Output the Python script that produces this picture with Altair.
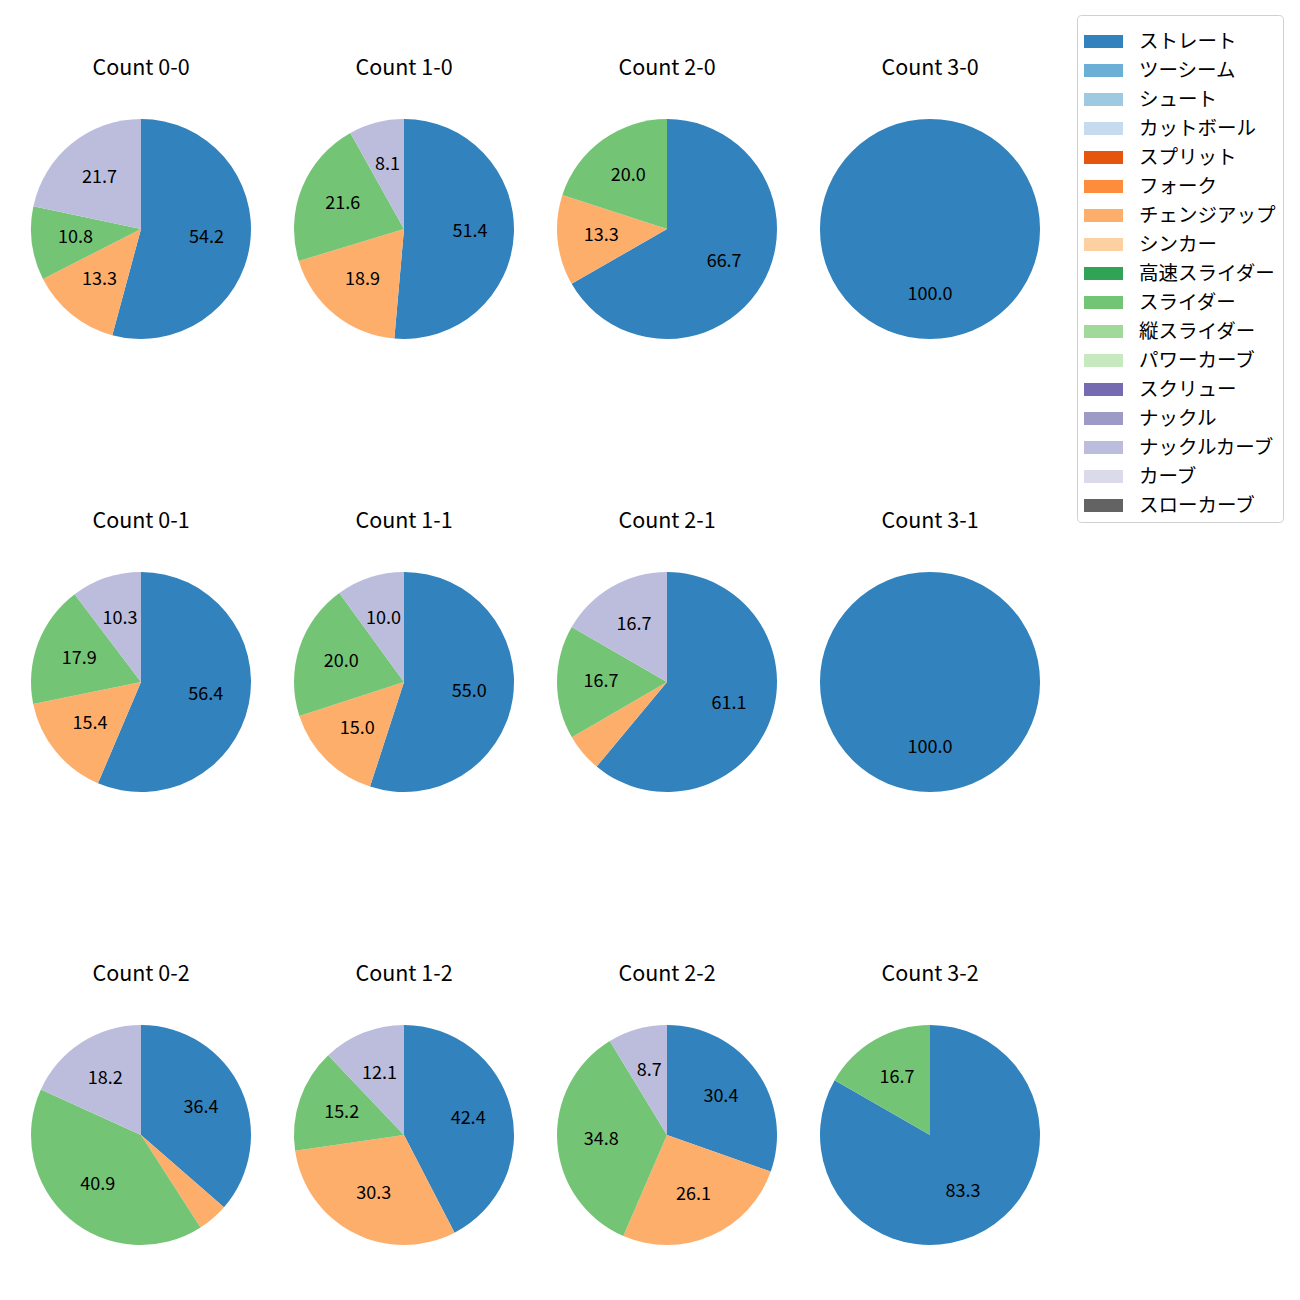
import altair as alt
import pandas as pd

pitch_types = ["ストレート", "ツーシーム", "シュート", "カットボール", "スプリット", "フォーク",
               "チェンジアップ", "シンカー", "高速スライダー", "スライダー", "縦スライダー",
               "パワーカーブ", "スクリュー", "ナックル", "ナックルカーブ", "カーブ", "スローカーブ"]
pitch_colors = ["#3182bd", "#6baed6", "#9ecae1", "#c6dbef", "#e6550d", "#fd8d3c",
                "#fdae6b", "#fdd0a2", "#31a354", "#74c476", "#a1d99b", "#c7e9c0",
                "#756bb1", "#9e9ac8", "#bcbddc", "#dadaeb", "#636363"]

count_titles = ["Count 0-0", "Count 1-0", "Count 2-0", "Count 3-0",
                "Count 0-1", "Count 1-1", "Count 2-1", "Count 3-1",
                "Count 0-2", "Count 1-2", "Count 2-2", "Count 3-2"]

c00_types = ["ストレート", "チェンジアップ", "スライダー", "ナックルカーブ"]
c00_pct = [54.2, 13.3, 10.8, 21.7]
c10_types = ["ストレート", "チェンジアップ", "スライダー", "ナックルカーブ"]
c10_pct = [51.4, 18.9, 21.6, 8.1]
c20_types = ["ストレート", "チェンジアップ", "スライダー"]
c20_pct = [66.7, 13.3, 20.0]
c30_types = ["ストレート"]
c30_pct = [100.0]
c01_types = ["ストレート", "チェンジアップ", "スライダー", "ナックルカーブ"]
c01_pct = [56.4, 15.4, 17.9, 10.3]
c11_types = ["ストレート", "チェンジアップ", "スライダー", "ナックルカーブ"]
c11_pct = [55.0, 15.0, 20.0, 10.0]
c21_types = ["ストレート", "チェンジアップ", "スライダー", "ナックルカーブ"]
c21_pct = [61.1, 5.6, 16.7, 16.7]
c31_types = ["ストレート"]
c31_pct = [100.0]
c02_types = ["ストレート", "チェンジアップ", "スライダー", "ナックルカーブ"]
c02_pct = [36.4, 4.5, 40.9, 18.2]
c12_types = ["ストレート", "チェンジアップ", "スライダー", "ナックルカーブ"]
c12_pct = [42.4, 30.3, 15.2, 12.1]
c22_types = ["ストレート", "チェンジアップ", "スライダー", "ナックルカーブ"]
c22_pct = [30.4, 26.1, 34.8, 8.7]
c32_types = ["ストレート", "スライダー"]
c32_pct = [83.3, 16.7]

all_types = [c00_types, c10_types, c20_types, c30_types, c01_types, c11_types,
             c21_types, c31_types, c02_types, c12_types, c22_types, c32_types]
all_pct = [c00_pct, c10_pct, c20_pct, c30_pct, c01_pct, c11_pct,
           c21_pct, c31_pct, c02_pct, c12_pct, c22_pct, c32_pct]

rows = []
for title, types, pcts in zip(count_titles, all_types, all_pct):
    for t, p in zip(types, pcts):
        rows.append({"cnt": title, "type": t, "pct": p,
                     "idx": pitch_types.index(t),
                     "label": f"{p:.1f}" if p >= 6 else ""})
df = pd.DataFrame(rows)

FONT = "Noto Sans CJK JP"
CX, CY = 133, 221

color = alt.Color(
    "type:N",
    scale=alt.Scale(domain=pitch_types, range=pitch_colors),
    legend=alt.Legend(
        title=None, orient="none", legendX=1069, legendY=7,
        symbolType="M-1,-0.333L1,-0.333L1,0.333L-1,0.333Z",
        symbolSize=1521, symbolStrokeWidth=0,
        labelFont=FONT, labelFontSize=19.5, labelColor="black",
        labelOffset=16, rowPadding=-6,
        padding=7, strokeColor="#d0d0d0", cornerRadius=4, fillColor="white",
    ),
)


def pie(title):
    base = alt.Chart(df).transform_filter(alt.datum.cnt == title)
    arcs = base.mark_arc(outerRadius=110).encode(
        theta=alt.Theta("pct:Q", stack="normalize"),
        color=color,
        order=alt.Order("idx:Q"),
        x=alt.value(CX), y=alt.value(CY),
    )
    labels = base.mark_text(radius=66, font=FONT, fontSize=18, color="black").encode(
        theta=alt.Theta("pct:Q", stack="normalize"),
        detail="type:N",
        order=alt.Order("idx:Q"),
        text="label:N",
        x=alt.value(CX), y=alt.value(CY),
    )
    head = base.transform_aggregate(n="count()", groupby=["cnt"]).mark_text(
        font=FONT, fontSize=21.5, color="black"
    ).encode(
        text="cnt:N",
        x=alt.value(CX), y=alt.value(61),
    )
    return alt.layer(arcs, labels, head).properties(width=263, height=340)


grid_rows = []
for r in range(3):
    grid_rows.append(alt.hconcat(*[pie(count_titles[r * 4 + c]) for c in range(4)], spacing=0))

chart = alt.vconcat(*grid_rows, spacing=113).configure_view(stroke=None).properties(padding=0)

chart.save("out.html", embed_options={"renderer": "svg", "actions": False})
